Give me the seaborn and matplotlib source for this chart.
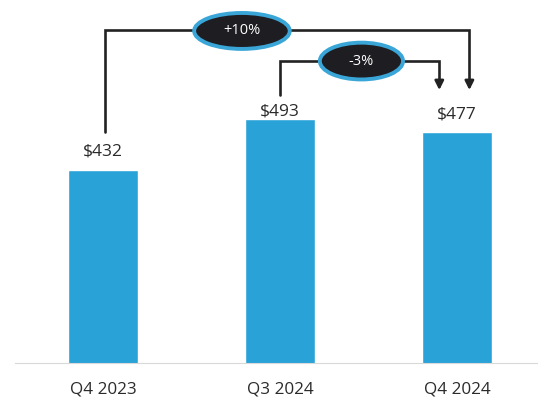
import matplotlib.pyplot as plt
import seaborn as sns
import pandas as pd
from matplotlib.patches import Ellipse

# Data
quarters = ['Q4 2023', 'Q3 2024', 'Q4 2024']
revenue = [432, 493, 477]
labels = ['$432', '$493', '$477']
changes = ['+10%', '-3%']

barColor = '#29A2D8'
lineColor = '#222222'

sns.set_style('white')
plt.rcParams['font.family'] = ['Open Sans', 'DejaVu Sans']

df = pd.DataFrame({'Quarter': quarters, 'Revenue': revenue})

fig = plt.figure(figsize=(5.38, 4.04), dpi=100)
ax = fig.add_axes([14.5 / 538, 41 / 404, 531 / 538, 363 / 404])
sns.barplot(data=df, x='Quarter', y='Revenue', color=barColor, saturation=1, width=0.4, ax=ax)
ax.set_xlim(-0.5, 2.5)
ax.set_ylim(201, 635)

# value labels above bars (offset in points)
offsets = [13, 5.5, 12.5]
for i, (v, t) in enumerate(zip(revenue, labels)):
    ax.annotate(t, (i, v), xytext=(0, offsets[i]), textcoords='offset points',
                ha='center', va='center', fontsize=12.5, color='#2b2b2b')

# bracket +10%: Q4 2023 -> Q4 2024
ax.plot([0.01, 0.01, 2.07, 2.07], [477, 599, 599, 535], color=lineColor, lw=1.9,
        solid_joinstyle='miter', clip_on=False)
ax.annotate('', xy=(2.07, 524), xytext=(2.07, 540),
            arrowprops=dict(arrowstyle='-|>', color=lineColor, lw=1.9, mutation_scale=13))
# bracket -3%: Q3 2024 -> Q4 2024
ax.plot([1.0, 1.0, 1.90, 1.90], [522, 562, 562, 535], color=lineColor, lw=1.9,
        solid_joinstyle='miter')
ax.annotate('', xy=(1.90, 524), xytext=(1.90, 540),
            arrowprops=dict(arrowstyle='-|>', color=lineColor, lw=1.9, mutation_scale=13))

# change bubbles
for (cx, cy, w, h), txt in zip([(0.785, 598, 0.54, 43), (1.46, 562, 0.47, 44)], changes):
    ax.add_patch(Ellipse((cx, cy), w, h, facecolor='#1d1d22', edgecolor='#3AA6D8',
                         lw=2.8, zorder=5))
    ax.text(cx, cy, txt, ha='center', va='center', color='white', fontsize=10.5, zorder=6)

sns.despine(ax=ax, left=True)
ax.spines['bottom'].set_color('#d9d9d9')
ax.set_yticks([])
ax.set_xlabel('')
ax.set_ylabel('')
ax.tick_params(axis='x', length=0, pad=13, labelsize=12.3, labelcolor='#2b2b2b')

fig.savefig('out.png', dpi=100)
